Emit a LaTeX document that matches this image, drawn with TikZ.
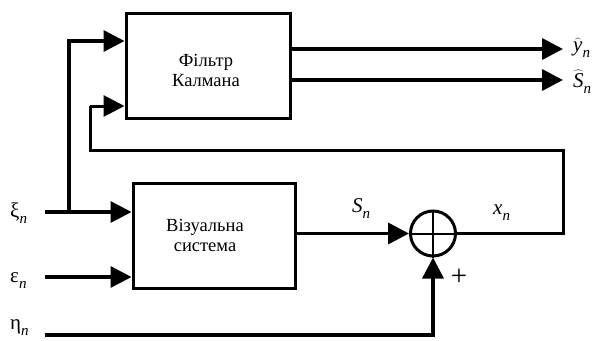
\documentclass[tikz,border=0pt]{standalone}
\usepackage{fontspec}
\setmainfont{Liberation Serif}
\usetikzlibrary{arrows.meta}
\newcommand\lblfont{\fontsize{21}{22}\selectfont}
\newcommand\subn{\raisebox{-0.3em}{\fontsize{15}{15}\selectfont\itshape n}}
\begin{document}
\begin{tikzpicture}[x=1pt,y=-1pt,
  blk/.style={draw,line width=3pt,inner sep=0pt},
  txt/.style={align=center,font=\fontsize{18.5}{20}\selectfont},
  wire/.style={line width=3.5pt},
  arr/.style={line width=3.5pt,-{Triangle[length=21pt,width=21pt]}},
  lbl/.style={font=\lblfont,inner sep=0pt}]
\useasboundingbox (0,0) rectangle (597,340);
% blocks
\node[blk,minimum width=164pt,minimum height=105pt] (kf) at (208,65.5) {};
\node[txt] (kft) at (206,70) {Фільтр\\Калмана};
\node[blk,minimum width=162pt,minimum height=105pt] (vs) at (214,235.5) {};
\node[txt] (vst) at (205,235) {Візуальна\\система};
\node[draw,circle,line width=3pt,minimum size=45pt,inner sep=0pt] (sum) at (433,233.5) {};
\draw[line width=2pt] (sum.west) -- (sum.east) (sum.north) -- (sum.south);
% labels
\node[lbl,anchor=base west] (lxi) at (10,217) {ξ\subn};
\node[lbl,anchor=base west] (leps) at (10,282) {ε\subn};
\node[lbl,anchor=base west] (leta) at (10,329) {η\subn};
\node[lbl,anchor=base west] (ly) at (573,51) {$\widehat{\mathit{y}}$\subn};
\node[lbl,anchor=base west] (lS) at (573,87) {$\widehat{\mathit{S}}$\subn};
\node[lbl,anchor=base west] (lSn) at (352,212) {\itshape S\subn};
\node[lbl,anchor=base west] (lxn) at (493,214) {\itshape x\subn};
\node[lbl,font=\fontsize{29}{29}\selectfont] (plus) at (459,277) {+};
% coordinates
\coordinate (xi) at (45,212);
\coordinate (eps) at (45,277);
\coordinate (eta) at (45,335);
\coordinate (br) at (69,212);
\coordinate (k1) at (69,41);
\coordinate (fb1) at (563,150);
\coordinate (fb2) at (90,106);
\coordinate (o1) at (563,49);
\coordinate (o2) at (563,80);
% inputs
\draw[arr] (xi) -- (xi -| vs.west);
\draw[arr] (eps) -- (eps -| vs.west);
\draw[arr] (br) -- (k1) -- (k1 -| kf.west);
\draw[wire] (eta) -| ([yshift=-20pt]sum.south);
\draw[arr] ([yshift=-21pt]sum.south) -- (sum.south);
% system to sum
\draw[arr] (vs.east |- sum) -- (sum.west);
% feedback
\draw[line width=3pt] (sum.east) -| (fb1) -| (fb2 |- fb1) -- (fb2);
\draw[arr,line width=3pt] (fb2) -- (fb2 -| kf.west);
% outputs
\draw[arr] (kf.east |- o1) -- (o1);
\draw[arr] (kf.east |- o2) -- (o2);
\end{tikzpicture}
\end{document}
